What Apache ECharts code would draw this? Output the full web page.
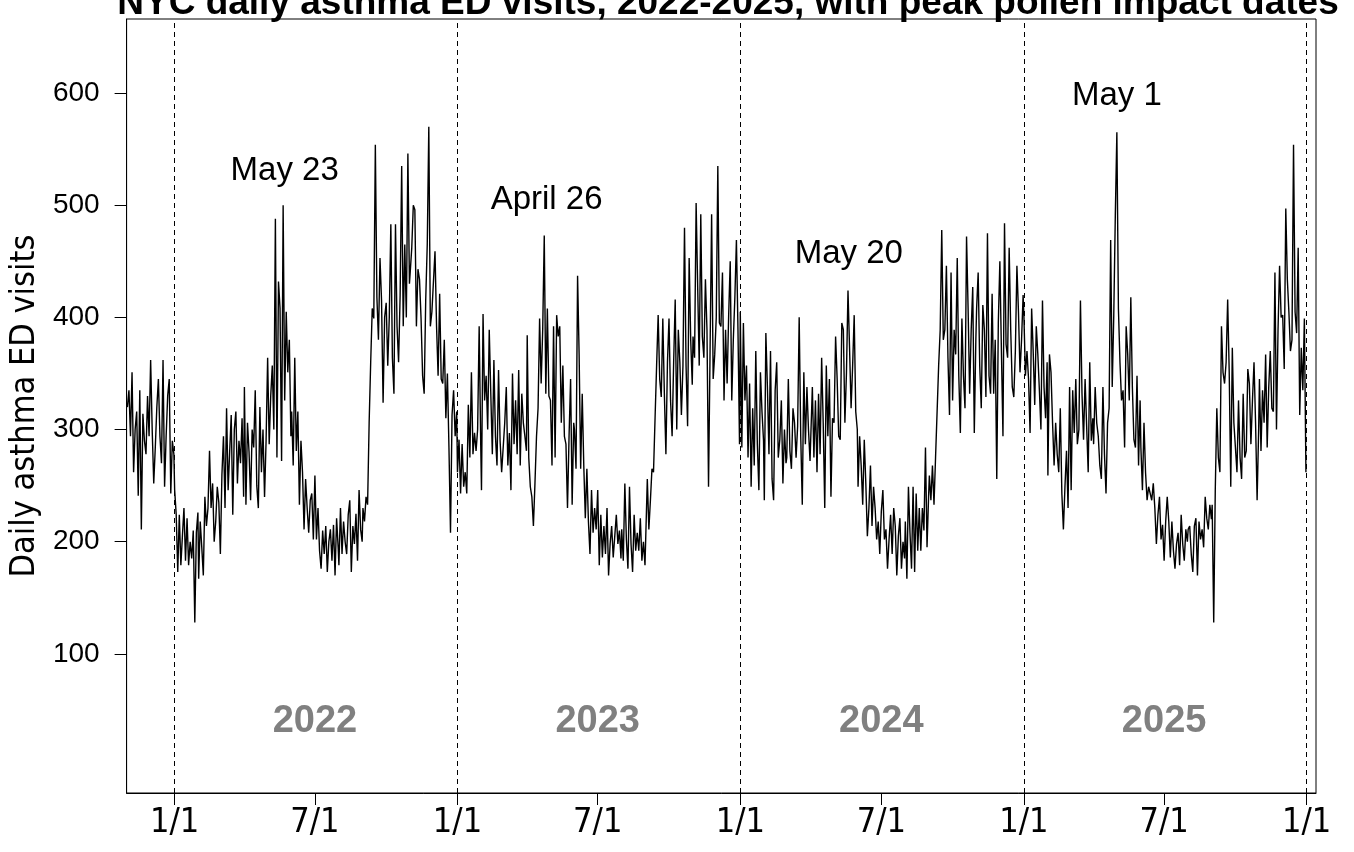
<!DOCTYPE html>
<html><head><meta charset="utf-8">
<script src="https://cdn.jsdelivr.net/npm/echarts@6/dist/echarts.min.js"></script>
<style>html,body{margin:0;padding:0;background:#fff}#c{width:1354px;height:852px}</style>
</head><body><div id="c"></div>
<script>
const titleText = 'NYC daily asthma ED visits, 2022-2025, with peak pollen impact dates';
const yAxisName = 'Daily asthma ED visits';

// Daily ED visits read every ~2 days, one inner array per month
const v2021 = [ // Nov, Dec
  [320, 335, 294, 351, 262, 300, 316, 241, 335, 211, 314, 290, 278, 330, 294],
  [362, 300, 252, 284, 320, 345, 294, 270, 362, 249, 294, 330, 345, 243, 290, 278]
];
const v2022 = [
  [246, 224, 173, 224, 179, 205, 230, 183, 221, 179, 200, 185, 210, 128, 208, 226],
  [167, 218, 195, 170, 240, 214, 230, 281, 230, 252, 200, 218, 249, 235],
  [189, 260, 294, 230, 319, 246, 280, 313, 224, 300, 316, 252, 290, 270, 310, 240],
  [338, 233, 306, 280, 237, 300, 284, 335, 250, 230, 320, 262, 300, 240, 290],
  [364, 287, 330, 357, 300, 488, 275, 432, 408, 272, 500, 326, 405, 351, 380, 294],
  [316, 268, 364, 281, 316, 233, 290, 262, 211, 256, 230, 208, 237, 243, 202],
  [259, 202, 230, 192, 176, 210, 189, 214, 173, 200, 211, 183, 215, 170, 221, 195],
  [179, 230, 189, 218, 200, 189, 224, 237, 173, 214, 198, 225, 183, 246, 211, 200],
  [230, 218, 240, 233, 306, 360, 408, 399, 554, 418, 380, 453, 415, 324, 400],
  [413, 357, 400, 483, 364, 332, 483, 392, 360, 420, 535, 392, 465, 400, 546, 430],
  [440, 462, 500, 496, 392, 443, 434, 399, 348, 332, 415, 465, 570, 392, 405],
  [405, 459, 392, 348, 421, 345, 341, 380, 310, 350, 284, 208, 313, 335, 294, 316]
];
const v2023 = [
  [262, 291, 243, 287, 249, 262, 243, 322, 275, 351, 278, 297, 281, 300, 392, 287],
  [246, 403, 326, 348, 300, 389, 332, 278, 362, 294, 268, 353, 290, 262],
  [262, 306, 338, 268, 297, 246, 350, 287, 326, 278, 353, 268, 332, 306, 294, 281],
  [384, 275, 249, 240, 214, 252, 294, 319, 399, 341, 389, 473, 332, 408, 330],
  [326, 268, 392, 275, 402, 383, 392, 306, 357, 294, 287, 230, 294, 345, 233, 306],
  [300, 265, 437, 367, 265, 332, 268, 221, 265, 218, 189, 246, 208, 230, 211],
  [246, 179, 224, 186, 214, 189, 230, 170, 198, 214, 186, 205, 224, 198, 210, 185],
  [211, 183, 252, 202, 176, 249, 198, 173, 224, 192, 208, 192, 221, 183, 200, 179],
  [179, 256, 211, 237, 265, 262, 310, 357, 402, 345, 329, 399, 332, 278, 360],
  [399, 326, 294, 360, 416, 300, 389, 360, 313, 357, 480, 357, 303, 453, 380, 340],
  [383, 364, 502, 427, 357, 492, 383, 364, 434, 389, 249, 370, 492, 345, 367],
  [400, 535, 395, 392, 440, 326, 389, 341, 402, 450, 326, 380, 418, 469, 389, 287]
];
const v2024 = [
  [405, 284, 395, 326, 357, 275, 341, 249, 319, 268, 370, 287, 246, 351, 316, 290],
  [237, 386, 338, 278, 370, 256, 237, 335, 360, 275, 291, 326, 252, 300, 270],
  [275, 345, 281, 265, 319, 306, 275, 303, 400, 294, 233, 351, 287, 338, 300, 272],
  [272, 338, 275, 326, 262, 332, 278, 364, 306, 230, 357, 294, 345, 240, 310],
  [306, 383, 345, 294, 291, 395, 389, 306, 350, 424, 373, 319, 357, 402, 316, 300],
  [249, 294, 268, 233, 291, 252, 205, 230, 268, 214, 249, 230, 202, 218, 189],
  [227, 246, 202, 211, 176, 202, 224, 189, 230, 214, 170, 205, 221, 176, 200, 185],
  [218, 167, 249, 208, 176, 249, 173, 243, 192, 230, 192, 230, 210, 284, 195, 240],
  [259, 237, 268, 233, 275, 316, 357, 389, 478, 380, 389, 446, 364, 313, 440],
  [326, 389, 367, 453, 348, 297, 399, 348, 319, 472, 408, 332, 389, 427, 297, 380],
  [408, 440, 357, 319, 411, 389, 329, 475, 348, 332, 421, 332, 380, 256, 395],
  [450, 370, 294, 484, 376, 364, 462, 389, 338, 329, 370, 446, 405, 351, 380, 420]
];
const v2025 = [
  [402, 348, 370, 345, 297, 408, 370, 322, 392, 367, 335, 300, 415, 338, 310, 360],
  [259, 367, 351, 306, 268, 306, 278, 262, 319, 243, 211, 249, 281, 230],
  [338, 246, 335, 297, 345, 287, 300, 415, 332, 291, 345, 303, 262, 360, 290, 310],
  [287, 338, 306, 294, 268, 256, 338, 278, 243, 306, 319, 469, 338, 402, 491],
  [565, 408, 360, 326, 335, 284, 392, 367, 326, 418, 338, 291, 284, 348, 268, 326],
  [284, 246, 306, 262, 237, 249, 243, 237, 252, 230, 198, 224, 240, 202, 215],
  [183, 218, 240, 218, 186, 218, 192, 176, 198, 208, 179, 224, 198, 183, 211, 200],
  [211, 214, 189, 173, 214, 221, 170, 218, 202, 211, 195, 240, 221, 211, 233, 220],
  [233, 128, 246, 319, 275, 262, 392, 351, 341, 360, 416, 351, 249, 373, 306],
  [306, 262, 326, 275, 256, 332, 275, 281, 354, 341, 287, 326, 360, 306, 237, 300],
  [345, 281, 335, 306, 367, 284, 338, 370, 319, 316, 440, 300, 389, 446, 400],
  [402, 354, 497, 434, 405, 370, 380, 554, 405, 386, 462, 313, 373, 335, 399, 262]
];

const yTicks = [100, 200, 300, 400, 500, 600];
const xTickDates = ['2022-01-01','2022-07-01','2023-01-01','2023-07-01','2024-01-01','2024-07-01','2025-01-01','2025-07-01','2026-01-01'];
const xTickLabels = ['1/1','7/1','1/1','7/1','1/1','7/1','1/1','7/1','1/1'];
const yearStartDates = ['2022-01-01','2023-01-01','2024-01-01','2025-01-01','2026-01-01'];
const yearLabels = ['2022','2023','2024','2025'];
const yearLabelDates = ['2022-07-01','2023-07-01','2024-07-01','2025-07-01'];
const yearLabelValue = 40;
const peakLabels = ['May 23','April 26','May 20','May 1'];
const peakDates = ['2022-05-23','2023-04-26','2024-05-20','2025-05-01'];
const peakLabelValues = [531, 505, 457, 597];
const xRange = ['2021-10-31','2026-01-13'];
const yRange = [-24, 666];

const BASE = Date.UTC(2022, 0, 1);
const DAY = 86400000;
function dayIdx(s){ const p = s.split('-').map(Number); return (Date.UTC(p[0], p[1]-1, p[2]) - BASE) / DAY; }
const lineData = [];
function addYear(year, startMonth, months){
  months.forEach((arr, k) => arr.forEach((v, i) => {
    lineData.push([(Date.UTC(year, startMonth + k, 1 + 2*i) - BASE) / DAY, v]);
  }));
}
addYear(2021, 10, v2021);
addYear(2022, 0, v2022);
addYear(2023, 0, v2023);
addYear(2024, 0, v2024);
addYear(2025, 0, v2025);

const xTickDays = xTickDates.map(dayIdx);
const NARROW = "'Liberation Sans Narrow','DejaVu Sans Condensed','Roboto Condensed','Liberation Sans',sans-serif";
const SANS = "'Liberation Sans',Arial,Helvetica,sans-serif";

const chart = echarts.init(document.getElementById('c'), null, {renderer: 'canvas'});
chart.setOption({
  animation: false,
  backgroundColor: '#fff',
  graphic: [{
    type: 'text', x: 728, y: 22, z: 10,
    style: { text: titleText, fontFamily: SANS, fontWeight: 'bold', fontSize: 37, fill: '#000', align: 'center', verticalAlign: 'bottom' }
  }],
  grid: { left: 125, right: 38, top: 19, bottom: 59, show: true, borderColor: '#000', borderWidth: 1, containLabel: false },
  xAxis: {
    type: 'value', min: dayIdx(xRange[0]), max: dayIdx(xRange[1]),
    axisLine: { show: true, onZero: false, lineStyle: { color: '#000', width: 1 } },
    axisTick: { show: true, customValues: xTickDays, length: 12, lineStyle: { color: '#000', width: 1 } },
    axisLabel: { show: true, customValues: xTickDays, margin: 13, fontSize: 34, fontFamily: NARROW, color: '#000',
      formatter: v => { const i = xTickDays.indexOf(v); return i >= 0 ? xTickLabels[i] : ''; } },
    splitLine: { show: false }
  },
  yAxis: {
    type: 'value', min: yRange[0], max: yRange[1],
    name: yAxisName, nameLocation: 'middle', nameGap: 79,
    nameTextStyle: { fontSize: 34, fontFamily: NARROW, color: '#000' },
    axisLine: { show: true, onZero: false, lineStyle: { color: '#000', width: 1 } },
    axisTick: { show: true, customValues: yTicks, length: 12, lineStyle: { color: '#000', width: 1 } },
    axisLabel: { show: true, customValues: yTicks, margin: 27, fontSize: 28, fontFamily: SANS, color: '#000' },
    splitLine: { show: false }
  },
  series: [
    {
      type: 'line', data: lineData, showSymbol: false, symbol: 'none',
      lineStyle: { color: '#000', width: 1.4 }, silent: true,
      markLine: {
        silent: true, symbol: ['none','none'], label: { show: false },
        lineStyle: { color: '#000', width: 1, type: [5, 4] },
        data: yearStartDates.map(d => ({ xAxis: dayIdx(d) }))
      }
    },
    {
      type: 'scatter', symbolSize: 0, silent: true, itemStyle: { opacity: 1 },
      data: yearLabelDates.map((d, i) => ({ value: [dayIdx(d), yearLabelValue], name: yearLabels[i] })),
      label: { show: true, position: 'inside', formatter: p => p.name, fontSize: 38, fontWeight: 'bold', fontFamily: SANS, color: '#808080' }
    },
    {
      type: 'scatter', symbolSize: 0, silent: true, itemStyle: { opacity: 1 },
      data: peakDates.map((d, i) => ({ value: [dayIdx(d), peakLabelValues[i]], name: peakLabels[i] })),
      label: { show: true, position: 'inside', formatter: p => p.name, fontSize: 33, fontFamily: SANS, color: '#000' }
    }
  ]
});
</script>
</body></html>
